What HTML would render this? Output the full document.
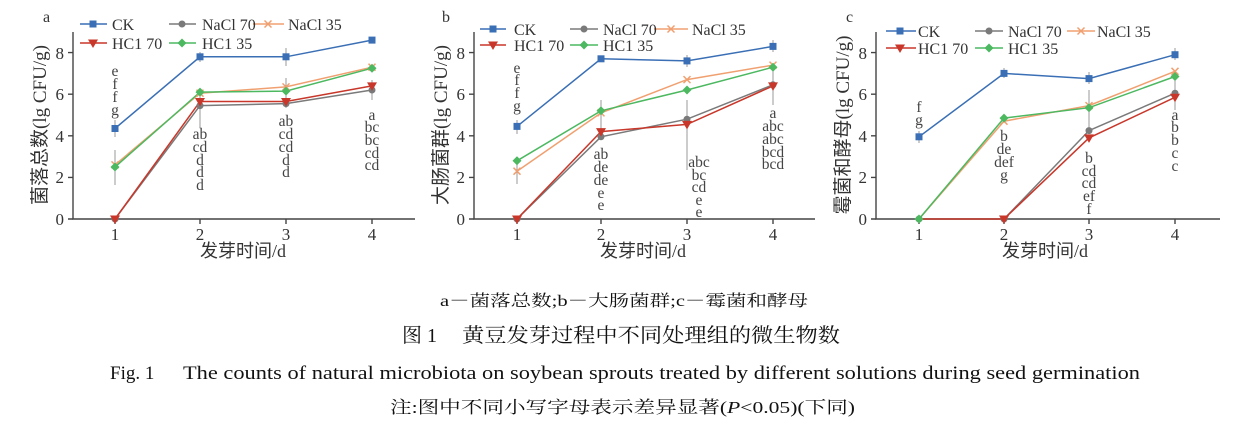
<!DOCTYPE html>
<html><head><meta charset="utf-8"><style>
body{margin:0;background:#fff;width:1241px;height:430px;overflow:hidden}
svg{display:block}
.s{font-family:"Liberation Serif","Noto Serif CJK SC",serif}
.k{font-family:"Liberation Serif","Noto Sans CJK SC",sans-serif}
</style></head><body>
<svg width="1241" height="430" viewBox="0 0 1241 430" xmlns="http://www.w3.org/2000/svg">
<defs>
<g id="mCK"><rect x="-3.5" y="-3.5" width="7" height="7" fill="#3a6fb5"/></g>
<g id="mN7"><circle r="3.5" fill="#7a7a7a"/></g>
<g id="mN3"><path d="M-3.5,-3.5L3.5,3.5M-3.5,3.5L3.5,-3.5" stroke="#f0a070" stroke-width="1.5"/></g>
<g id="mH7"><path d="M-5,-3.5L5,-3.5L0,5Z" fill="#c8372a"/></g>
<g id="mH3"><path d="M0,-4.5L4.5,0L0,4.5L-4.5,0Z" fill="#4cb860"/></g>
</defs>

<g class="s" fill="#333" font-size="17">
<!-- Panel a -->
<text x="43" y="22" font-size="16">a</text>
<g stroke="#444" stroke-width="1.4" fill="none">
<path d="M73,32V219H415"/>
<path d="M73,219h-5M73,177.4h-5M73,135.8h-5M73,94.2h-5M73,52.6h-5"/>
<path d="M115,219v5M200,219v5M286,219v5M372,219v5"/>
</g>
<g text-anchor="end"><text x="64" y="225">0</text><text x="64" y="183">2</text><text x="64" y="142">4</text><text x="64" y="100">6</text><text x="64" y="59">8</text></g>
<g text-anchor="middle"><text x="115" y="240">1</text><text x="200" y="240">2</text><text x="286" y="240">3</text><text x="372" y="240">4</text></g>
<text x="243" y="257" text-anchor="middle" class="k" font-size="18">发芽时间/d</text>
<text transform="translate(46,125) rotate(-90)" text-anchor="middle" class="k" font-size="19">菌落总数(lg CFU/g)</text>

<!-- Panel b -->
<text x="442" y="22" font-size="16">b</text>
<g stroke="#444" stroke-width="1.4" fill="none">
<path d="M474,32V219H815"/>
<path d="M474,219h-5M474,177.4h-5M474,135.8h-5M474,94.2h-5M474,52.6h-5"/>
<path d="M517,219v5M601,219v5M687,219v5M773,219v5"/>
</g>
<g text-anchor="end"><text x="465" y="225">0</text><text x="465" y="183">2</text><text x="465" y="142">4</text><text x="465" y="100">6</text><text x="465" y="59">8</text></g>
<g text-anchor="middle"><text x="517" y="240">1</text><text x="601" y="240">2</text><text x="687" y="240">3</text><text x="773" y="240">4</text></g>
<text x="643" y="257" text-anchor="middle" class="k" font-size="18">发芽时间/d</text>
<text transform="translate(447,125) rotate(-90)" text-anchor="middle" class="k" font-size="19">大肠菌群(lg CFU/g)</text>

<!-- Panel c -->
<text x="846" y="22" font-size="16">c</text>
<g stroke="#444" stroke-width="1.4" fill="none">
<path d="M876,32V219H1220"/>
<path d="M876,219h-5M876,177.4h-5M876,135.8h-5M876,94.2h-5M876,52.6h-5"/>
<path d="M919,219v5M1004,219v5M1089,219v5M1175,219v5"/>
</g>
<g text-anchor="end"><text x="867" y="225">0</text><text x="867" y="183">2</text><text x="867" y="142">4</text><text x="867" y="100">6</text><text x="867" y="59">8</text></g>
<g text-anchor="middle"><text x="919" y="240">1</text><text x="1004" y="240">2</text><text x="1089" y="240">3</text><text x="1175" y="240">4</text></g>
<text x="1045" y="257" text-anchor="middle" class="k" font-size="18">发芽时间/d</text>
<text transform="translate(849,125) rotate(-90)" text-anchor="middle" class="k" font-size="19">霉菌和酵母(lg CFU/g)</text>
</g>

<!-- series -->
<g fill="none" stroke-width="1.5">
<polyline stroke="#f0a070" points="115,164.9 200,93.2 286,86.9 372,67.2"/>
<polyline stroke="#7a7a7a" points="115,219 200,105.6 286,103.6 372,90"/>
<polyline stroke="#c8372a" points="115,219 200,101.5 286,101.5 372,85.9"/>
<polyline stroke="#4cb860" points="115,167 200,92.1 286,91.1 372,68.2"/>
<polyline stroke="#3a6fb5" points="115,128.5 200,56.8 286,56.8 372,40.1"/>

<polyline stroke="#7a7a7a" points="517,219 601,136.8 687,119.2 773,84.8"/>
<polyline stroke="#c8372a" points="517,219 601,131.6 687,124.4 773,85.9"/>
<polyline stroke="#f0a070" points="517,171.2 601,112.9 687,79.6 773,65.1"/>
<polyline stroke="#4cb860" points="517,160.8 601,110.8 687,90 773,67.2"/>
<polyline stroke="#3a6fb5" points="517,126.4 601,58.8 687,60.9 773,46.4"/>

<polyline stroke="#7a7a7a" points="919,219 1004,219 1089,130.6 1175,93.2"/>
<polyline stroke="#c8372a" points="919,219 1004,219 1089,137.9 1175,97.3"/>
<polyline stroke="#f0a070" points="919,219 1004,121.2 1089,105.6 1175,71.3"/>
<polyline stroke="#4cb860" points="919,219 1004,118.1 1089,107.7 1175,76.5"/>
<polyline stroke="#3a6fb5" points="919,136.8 1004,73.4 1089,78.6 1175,54.7"/>
</g>
<!-- error bars -->
<g stroke="#999" stroke-width="1" fill="none">
<path d="M115,120v17M115,150v35M200,88v40M286,78v30M286,48v18M372,80v20M200,52v10"/>
<path d="M517,120v14M517,160v24M601,100v30M687,100v70M773,70v35M773,40v12M687,55v12"/>
<path d="M919,131v12M1004,68v10M1089,90v40M1089,72v12M1175,80v30M1175,48v12"/>
</g>
<!-- markers -->
<g>
<use href="#mN3" x="115" y="164.9"/><use href="#mN3" x="200" y="93.2"/><use href="#mN3" x="286" y="86.9"/><use href="#mN3" x="372" y="67.2"/>
<use href="#mN7" x="115" y="219"/><use href="#mN7" x="200" y="105.6"/><use href="#mN7" x="286" y="103.6"/><use href="#mN7" x="372" y="90"/>
<use href="#mH7" x="115" y="219"/><use href="#mH7" x="200" y="101.5"/><use href="#mH7" x="286" y="101.5"/><use href="#mH7" x="372" y="85.9"/>
<use href="#mH3" x="115" y="167"/><use href="#mH3" x="200" y="92.1"/><use href="#mH3" x="286" y="91.1"/><use href="#mH3" x="372" y="68.2"/>
<use href="#mCK" x="115" y="128.5"/><use href="#mCK" x="200" y="56.8"/><use href="#mCK" x="286" y="56.8"/><use href="#mCK" x="372" y="40.1"/>

<use href="#mN7" x="517" y="219"/><use href="#mN7" x="601" y="136.8"/><use href="#mN7" x="687" y="119.2"/><use href="#mN7" x="773" y="84.8"/>
<use href="#mH7" x="517" y="219"/><use href="#mH7" x="601" y="131.6"/><use href="#mH7" x="687" y="124.4"/><use href="#mH7" x="773" y="85.9"/>
<use href="#mN3" x="517" y="171.2"/><use href="#mN3" x="601" y="112.9"/><use href="#mN3" x="687" y="79.6"/><use href="#mN3" x="773" y="65.1"/>
<use href="#mH3" x="517" y="160.8"/><use href="#mH3" x="601" y="110.8"/><use href="#mH3" x="687" y="90"/><use href="#mH3" x="773" y="67.2"/>
<use href="#mCK" x="517" y="126.4"/><use href="#mCK" x="601" y="58.8"/><use href="#mCK" x="687" y="60.9"/><use href="#mCK" x="773" y="46.4"/>

<use href="#mN7" x="919" y="219"/><use href="#mN7" x="1004" y="219"/><use href="#mN7" x="1089" y="130.6"/><use href="#mN7" x="1175" y="93.2"/>
<use href="#mH7" x="1004" y="219"/><use href="#mH7" x="1089" y="137.9"/><use href="#mH7" x="1175" y="97.3"/>
<use href="#mN3" x="1004" y="121.2"/><use href="#mN3" x="1089" y="105.6"/><use href="#mN3" x="1175" y="71.3"/>
<use href="#mH3" x="919" y="219"/><use href="#mH3" x="1004" y="118.1"/><use href="#mH3" x="1089" y="107.7"/><use href="#mH3" x="1175" y="76.5"/>
<use href="#mCK" x="919" y="136.8"/><use href="#mCK" x="1004" y="73.4"/><use href="#mCK" x="1089" y="78.6"/><use href="#mCK" x="1175" y="54.7"/>
</g>

<!-- legends -->
<g stroke-width="1.5">
<path d="M80,24H107" stroke="#3a6fb5"/><use href="#mCK" x="93" y="24"/>
<path d="M169,24H196" stroke="#7a7a7a"/><use href="#mN7" x="182" y="24"/>
<path d="M253,24H284" stroke="#f0a070"/><use href="#mN3" x="268" y="24"/>
<path d="M80,43H107" stroke="#c8372a"/><use href="#mH7" x="93" y="43"/>
<path d="M169,43H196" stroke="#4cb860"/><use href="#mH3" x="182" y="43"/>

<path d="M480,29H506" stroke="#3a6fb5"/><use href="#mCK" x="493" y="29"/>
<path d="M570,29H598" stroke="#7a7a7a"/><use href="#mN7" x="584" y="29"/>
<path d="M654,29H688" stroke="#f0a070"/><use href="#mN3" x="671" y="29"/>
<path d="M480,45H506" stroke="#c8372a"/><use href="#mH7" x="493" y="45"/>
<path d="M570,45H598" stroke="#4cb860"/><use href="#mH3" x="584" y="45"/>

<path d="M886,31H916" stroke="#3a6fb5"/><use href="#mCK" x="900" y="31"/>
<path d="M975,31H1003" stroke="#7a7a7a"/><use href="#mN7" x="989" y="31"/>
<path d="M1067,31H1095" stroke="#f0a070"/><use href="#mN3" x="1081" y="31"/>
<path d="M886,48H916" stroke="#c8372a"/><use href="#mH7" x="900" y="48"/>
<path d="M975,48H1003" stroke="#4cb860"/><use href="#mH3" x="989" y="48"/>
</g>
<g class="s" fill="#333" font-size="16">
<text x="112" y="30">CK</text><text x="202" y="30">NaCl 70</text><text x="288" y="30">NaCl 35</text>
<text x="112" y="49">HC1 70</text><text x="202" y="49">HC1 35</text>
<text x="514" y="35">CK</text><text x="603" y="35">NaCl 70</text><text x="692" y="35">NaCl 35</text>
<text x="514" y="51">HC1 70</text><text x="603" y="51">HC1 35</text>
<text x="918" y="37">CK</text><text x="1008" y="37">NaCl 70</text><text x="1097" y="37">NaCl 35</text>
<text x="918" y="54">HC1 70</text><text x="1008" y="54">HC1 35</text>
</g>

<!-- significance letters -->
<g class="s" fill="#444" font-size="15.5" text-anchor="middle">
<text x="115" y="76">e</text><text x="115" y="89">f</text><text x="115" y="102">f</text><text x="115" y="115">g</text>
<text x="200" y="139">ab</text><text x="200" y="152">cd</text><text x="200" y="165">d</text><text x="200" y="177">d</text><text x="200" y="190">d</text>
<text x="286" y="126">ab</text><text x="286" y="139">cd</text><text x="286" y="152">cd</text><text x="286" y="165">d</text><text x="286" y="177">d</text>
<text x="372" y="120">a</text><text x="372" y="132">bc</text><text x="372" y="145">bc</text><text x="372" y="158">cd</text><text x="372" y="170">cd</text>

<text x="517" y="73">e</text><text x="517" y="85">f</text><text x="517" y="98">f</text><text x="517" y="111">g</text>
<text x="601" y="159">ab</text><text x="601" y="172">de</text><text x="601" y="185">de</text><text x="601" y="198">e</text><text x="601" y="210">e</text>
<text x="699" y="167">abc</text><text x="699" y="180">bc</text><text x="699" y="192">cd</text><text x="699" y="205">e</text><text x="699" y="217">e</text>
<text x="773" y="118">a</text><text x="773" y="131">abc</text><text x="773" y="144">abc</text><text x="773" y="157">bcd</text><text x="773" y="169">bcd</text>

<text x="919" y="112">f</text><text x="919" y="125">g</text>
<text x="1004" y="141">b</text><text x="1004" y="154">de</text><text x="1004" y="167">def</text><text x="1004" y="180">g</text>
<text x="1089" y="163">b</text><text x="1089" y="176">cd</text><text x="1089" y="188">cd</text><text x="1089" y="201">ef</text><text x="1089" y="214">f</text>
<text x="1175" y="120">a</text><text x="1175" y="132">b</text><text x="1175" y="145">b</text><text x="1175" y="158">c</text><text x="1175" y="171">c</text>
</g>

<!-- captions -->
<g fill="#111">
<text x="440" y="306" class="s" font-size="16" textLength="368" lengthAdjust="spacingAndGlyphs">a－菌落总数;b－大肠菌群;c－霉菌和酵母</text>
<text x="402" y="342" class="s" font-size="20">图 1</text>
<text x="462" y="342" class="s" font-size="20" textLength="378" lengthAdjust="spacingAndGlyphs">黄豆发芽过程中不同处理组的微生物数</text>
<text x="110" y="379" class="s" font-size="19">Fig. 1</text>
<text x="183" y="379" class="s" font-size="19" textLength="957" lengthAdjust="spacingAndGlyphs">The counts of natural microbiota on soybean sprouts treated by different solutions during seed germination</text>
<text x="390" y="413" class="s" font-size="17" textLength="465" lengthAdjust="spacingAndGlyphs">注:图中不同小写字母表示差异显著(<tspan font-style="italic">P</tspan>&lt;0.05)(下同)</text>
</g>
</svg>
</body></html>
